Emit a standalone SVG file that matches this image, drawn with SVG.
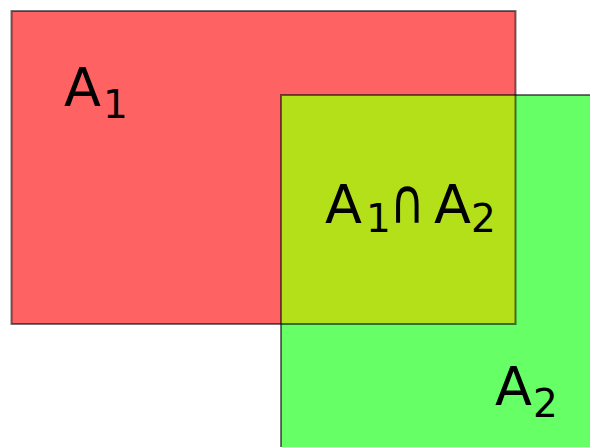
<svg xmlns="http://www.w3.org/2000/svg" width="590" height="447" viewBox="0 0 590 447">
<style>
.lbl{font-family:"DejaVu Sans","Liberation Sans",sans-serif;fill:#000}
.big{font-size:54px}
.sub{font-size:39px}
.edge{fill:none;stroke:#000;stroke-opacity:0.55;stroke-width:2}
</style>
<rect width="590" height="447" fill="#fff"/>
<g id="A1">
<rect x="11.5" y="11" width="504" height="313" fill="#ff6262"/>
</g>
<g id="A2">
<rect x="281" y="95" width="320" height="360" fill="#66ff66"/>
</g>
<g id="overlap">
<rect x="281" y="95" width="234.5" height="229" fill="#b3e019"/>
</g>
<g id="borders">
<rect class="edge" x="11.5" y="11" width="504" height="313"/>
<rect class="edge" x="281" y="95" width="320" height="360"/>
</g>
<g id="labels">
<text class="lbl" y="106"><tspan class="big" x="64">A</tspan><tspan class="sub" x="103" y="118">1</tspan></text>
<text class="lbl" y="223"><tspan class="big" x="325">A</tspan><tspan class="sub" x="366" y="232">1</tspan></text>
<text class="lbl big" transform="translate(390,223) scale(0.88,1.17)">∩</text>
<text class="lbl" y="223"><tspan class="big" x="434">A</tspan><tspan class="sub" x="471" y="232">2</tspan></text>
<text class="lbl" y="405"><tspan class="big" x="495">A</tspan><tspan class="sub" x="533" y="417">2</tspan></text>
</g>
</svg>
